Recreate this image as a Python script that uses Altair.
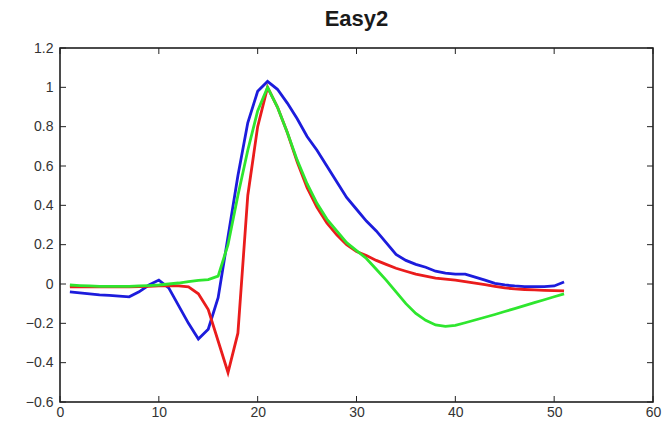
import altair as alt
import pandas as pd

# ---- data ----
x_vals = list(range(1, 52))

blue = [-0.040, -0.045, -0.050, -0.055, -0.058, -0.062, -0.065, -0.040, -0.005, 0.020,
        -0.020, -0.110, -0.200, -0.280, -0.230, -0.070, 0.240, 0.550, 0.820, 0.980,
        1.030, 0.990, 0.920, 0.840, 0.750, 0.680, 0.600, 0.520, 0.440, 0.380,
        0.320, 0.270, 0.210, 0.150, 0.120, 0.100, 0.085, 0.065, 0.055, 0.050,
        0.050, 0.035, 0.020, 0.003, -0.005, -0.010, -0.013, -0.013, -0.013, -0.010, 0.010]

red = [-0.015, -0.015, -0.015, -0.015, -0.015, -0.015, -0.015, -0.013, -0.012, -0.010,
       -0.010, -0.010, -0.015, -0.050, -0.130, -0.290, -0.450, -0.250, 0.450, 0.800,
       1.000, 0.900, 0.770, 0.620, 0.490, 0.390, 0.310, 0.250, 0.200, 0.165,
       0.145, 0.120, 0.100, 0.080, 0.065, 0.050, 0.040, 0.030, 0.025, 0.020,
       0.012, 0.005, -0.003, -0.012, -0.020, -0.025, -0.028, -0.030, -0.032, -0.034, -0.035]

green = [-0.005, -0.008, -0.010, -0.012, -0.012, -0.012, -0.012, -0.010, -0.008, -0.005,
         0.000, 0.005, 0.012, 0.018, 0.022, 0.040, 0.200, 0.450, 0.680, 0.880,
         1.000, 0.900, 0.770, 0.630, 0.510, 0.410, 0.330, 0.270, 0.210, 0.170,
         0.130, 0.075, 0.020, -0.040, -0.100, -0.150, -0.185, -0.208, -0.215, -0.210,
         -0.197, -0.183, -0.169, -0.155, -0.140, -0.125, -0.110, -0.095, -0.080, -0.065, -0.050]

series_names = ["blue", "red", "green"]
series_colors = ["#1c1cdc", "#ea1c1c", "#2ee62e"]

x_ticks = [0, 10, 20, 30, 40, 50, 60]
y_ticks = [-0.6, -0.4, -0.2, 0, 0.2, 0.4, 0.6, 0.8, 1, 1.2]

title_text = "Easy2"

# ---- build chart ----
W, H = 593, 354
FONT = "Liberation Sans"

xscale = alt.Scale(domain=[0, 60], nice=False, zero=False)
yscale = alt.Scale(domain=[-0.6, 1.2], nice=False, zero=False)

x_axis = alt.Axis(values=x_ticks, format="d", grid=False, ticks=False, domain=False,
                  labelFont=FONT, labelFontSize=14, labelColor="#333333",
                  labelPadding=3, labelFlush=False, labelOverlap=False, title=None)
y_axis = alt.Axis(values=y_ticks, format="~r", grid=False, ticks=False, domain=False,
                  labelFont=FONT, labelFontSize=14, labelColor="#333333",
                  labelPadding=7, labelFlush=False, labelOverlap=False, title=None)

layers = []
for name, vals, col in zip(series_names, [blue, red, green], series_colors):
    df = pd.DataFrame({"x": x_vals, "y": vals})
    layers.append(
        alt.Chart(df).mark_line(color=col, strokeWidth=2.8, clip=True).encode(
            x=alt.X("x:Q", scale=xscale, axis=x_axis),
            y=alt.Y("y:Q", scale=yscale, axis=y_axis))
    )

xt = pd.DataFrame({"x": x_ticks})
yt = pd.DataFrame({"y": y_ticks})
tick_style = dict(color="#222222", strokeWidth=1)

bottom_ticks = alt.Chart(xt).mark_rule(**tick_style).encode(
    x=alt.X("x:Q", scale=xscale, axis=x_axis), y=alt.value(H), y2=alt.value(H - 6))
top_ticks = alt.Chart(xt).mark_rule(**tick_style).encode(
    x=alt.X("x:Q", scale=xscale, axis=x_axis), y=alt.value(0), y2=alt.value(6))
left_ticks = alt.Chart(yt).mark_rule(**tick_style).encode(
    y=alt.Y("y:Q", scale=yscale, axis=y_axis), x=alt.value(0), x2=alt.value(6))
right_ticks = alt.Chart(yt).mark_rule(**tick_style).encode(
    y=alt.Y("y:Q", scale=yscale, axis=y_axis), x=alt.value(W), x2=alt.value(W - 6))

chart = alt.layer(*layers, bottom_ticks, top_ticks, left_ticks, right_ticks).properties(
    width=W, height=H,
    background="white",
    title=alt.TitleParams(title_text, font=FONT, fontSize=22, fontWeight="bold",
                          color="#1a1a1a", anchor="middle", frame="group", offset=10),
    autosize=alt.AutoSizeParams(type="none"),
    padding={"left": 60, "top": 48, "right": 13, "bottom": 28},
).configure_view(stroke="#111111", strokeWidth=1.5)

chart.save("out.html", embed_options={"renderer": "svg", "actions": False})
